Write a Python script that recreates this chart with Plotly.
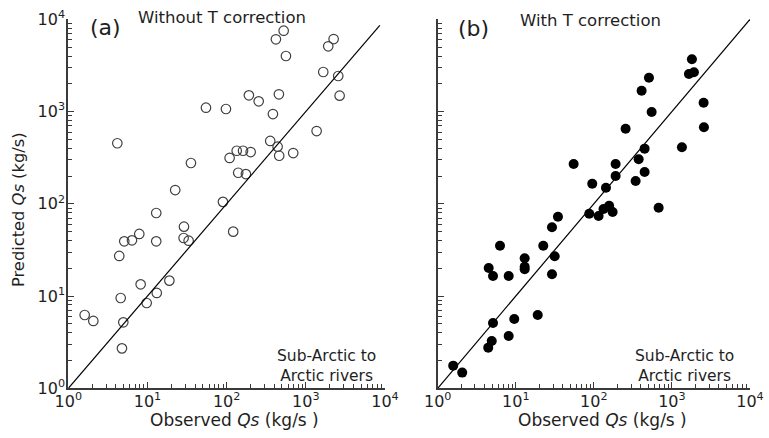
import plotly.graph_objects as go

W, H = 769, 438

# Panel (a): without T correction (observed, predicted) in kg/s
obs_a = [4.16, 419, 525, 561, 2244, 1919, 1660, 2566, 2673, 191, 254, 457, 54.8, 98, 384,
         1369, 355, 440, 461, 693, 134, 161, 201, 109, 35.4, 140, 175, 22.4, 89.8, 12.9,
         28.9, 28.6, 33.1, 12.9, 7.88, 6.37, 5.09, 4.40, 121, 18.9, 8.20, 13.1, 4.59, 9.77,
         1.61, 2.07, 4.95, 4.76]
pred_a = [453, 6070, 7520, 4000, 6110, 5100, 2685, 2430, 1486, 1500, 1291, 1538, 1101, 1066, 940,
          615, 480, 416, 332, 355, 376, 376, 364, 314, 277, 217, 210, 141, 105, 79.5,
          56.5, 42.6, 39.8, 39.2, 47.1, 40.2, 39.2, 27.2, 49.9, 14.7, 13.4, 10.8, 9.53, 8.41,
          6.23, 5.37, 5.19, 2.71]

# Panel (b): with T correction
obs_b = [1803, 1651, 1913, 508, 409, 2546, 550, 2570, 255, 1343, 447, 375, 55.1, 190, 447,
         190, 343, 95.4, 143, 676, 157, 133, 174, 87.3, 115, 34.7, 29.1, 6.28, 22.5, 13.0,
         31.5, 13.0, 13.0, 4.50, 5.11, 8.11, 29.1, 19.1, 9.57, 5.11, 8.11, 4.92, 4.44, 1.58, 2.06]
pred_b = [3684, 2554, 2663, 2328, 1683, 1247, 989, 675, 652, 410, 396, 304, 270, 270, 221,
          200, 177, 165, 149, 90.7, 95.4, 87.9, 81.5, 78.1, 73.8, 72.5, 55.6, 35.1, 35.1, 25.7,
          27.0, 20.8, 19.5, 20.1, 16.5, 16.5, 17.2, 6.23, 5.64, 5.10, 3.69, 3.26, 2.76, 1.76, 1.48]

# 1:1 lines
line_a = [1, 8600]
line_b = [1, 10000]

major_vals = [1, 10, 100, 1000, 10000]
major_text = ["10<sup>0</sup>", "10<sup>1</sup>", "10<sup>2</sup>", "10<sup>3</sup>", "10<sup>4</sup>"]
minor_vals = [m * 10 ** e for e in range(0, 4) for m in range(2, 10)]

FONT = "DejaVu Sans, Liberation Sans, Arial, sans-serif"
AX = "#3a3a3a"
TXT = "#1e1e1e"

fig = go.Figure()
fig.add_trace(go.Scatter(x=obs_a, y=pred_a, mode="markers", xaxis="x", yaxis="y",
                         marker=dict(symbol="circle-open", size=9.5, color="#404040",
                                     line=dict(width=1.2, color="#404040")),
                         showlegend=False))
fig.add_trace(go.Scatter(x=line_a, y=line_a, mode="lines", xaxis="x", yaxis="y",
                         line=dict(color="black", width=1.2), showlegend=False))
fig.add_trace(go.Scatter(x=obs_b, y=pred_b, mode="markers", xaxis="x2", yaxis="y2",
                         marker=dict(symbol="circle", size=10, color="black"),
                         showlegend=False))
fig.add_trace(go.Scatter(x=line_b, y=line_b, mode="lines", xaxis="x2", yaxis="y2",
                         line=dict(color="black", width=1.2), showlegend=False))

def axis(domain, anchor, labels=True, standoff=0):
    return dict(type="log", range=[0, 4], domain=domain, anchor=anchor,
                showgrid=False, zeroline=False, showline=True, linecolor=AX, linewidth=2,
                ticks="inside", ticklen=6, tickwidth=1, tickcolor=AX,
                tickmode="array", tickvals=major_vals, ticktext=major_text,
                showticklabels=labels, tickfont=dict(size=16, color=TXT, family=FONT),
                ticklabelstandoff=standoff,
                minor=dict(tickmode="array", tickvals=minor_vals, ticks="inside",
                           ticklen=4, tickwidth=1, tickcolor=AX),
                automargin=False, mirror=False)

ydom = [(H - 388.3) / H, (H - 19.3) / H]
fig.update_layout(
    width=W, height=H, margin=dict(l=0, r=0, t=0, b=0),
    paper_bgcolor="white", plot_bgcolor="white",
    font=dict(family=FONT, color=TXT),
    hovermode=False,
    xaxis=axis([68.3 / W, 385 / W], "y", standoff=-3),
    yaxis=axis(ydom, "x", standoff=-2),
    xaxis2=axis([437.7 / W, 750 / W], "y2", standoff=-3),
    yaxis2=axis(ydom, "x2", labels=False),
)

def ann(text, x, y, size, **kw):
    fig.add_annotation(text=text, x=x / W, y=1 - y / H, xref="paper", yref="paper",
                       xanchor="center", yanchor="middle", showarrow=False,
                       font=dict(size=size, family=FONT, color=TXT), **kw)

ann("(a)", 106, 27, 22)
ann("Without T correction", 222, 18, 16.5)
ann("(b)", 473, 29, 22)
ann("With T correction", 590, 20, 16.5)
ann("Sub-Arctic to<br>Arctic rivers", 326, 366, 15.5)
ann("Sub-Arctic to<br>Arctic rivers", 684, 366, 15.5)
ann("Observed <i>Qs</i> (kg/s )", 234, 420, 17)
ann("Observed <i>Qs</i> (kg/s )", 602, 420, 17)
ann("Predicted <i>Qs</i> (kg/s)", 19, 210, 16.3, textangle=-90)

fig.write_html("out.html", config={"displayModeBar": False},
               post_script="document.body.style.margin='0';")
